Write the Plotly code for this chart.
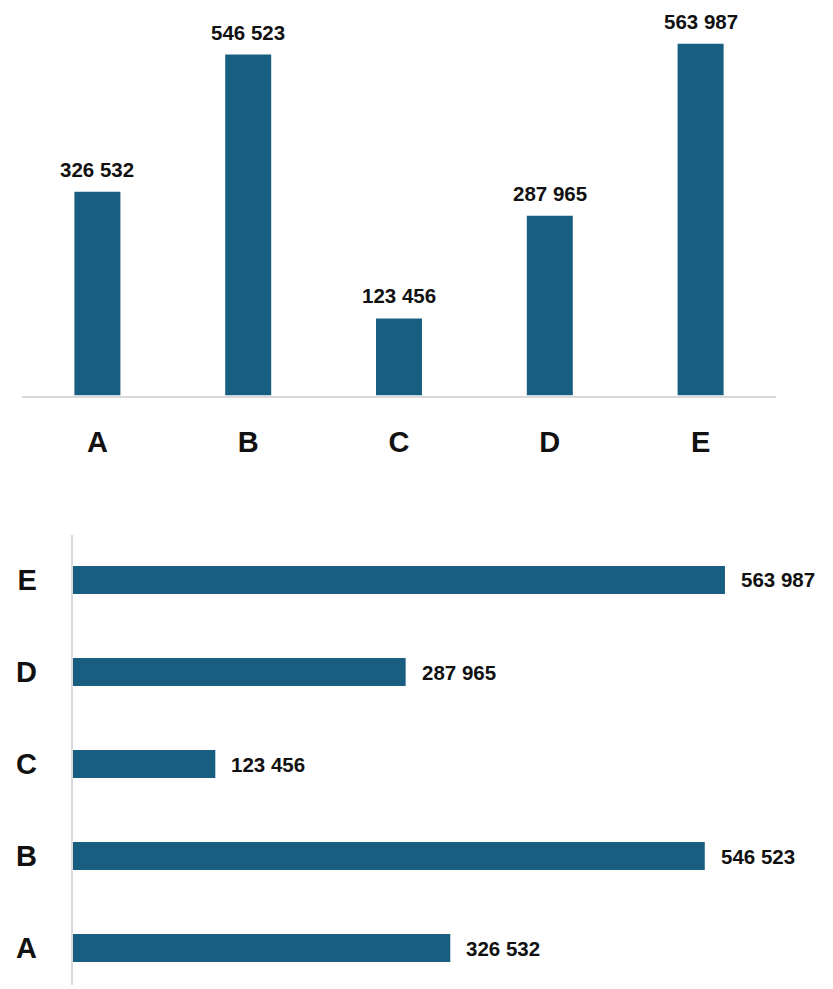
import plotly.graph_objects as go

W, H = 833, 989
OFF = 8  # page body margin in the browser

categories = ["A", "B", "C", "D", "E"]
values = [326532, 546523, 123456, 287965, 563987]
labels = ["326 532", "546 523", "123 456", "287 965", "563 987"]

BAR = "#175e80"
GRID = "#d9d9d9"
LABEL_FONT = dict(family="Liberation Sans, Arial, sans-serif", size=20.5, color="#111111")
CAT_FONT = dict(family="Liberation Sans, Arial, sans-serif", size=29, color="#111111")


def fx(px):
    return (px - OFF) / W


def fy(py):
    return 1 - (py - OFF) / H


fig = go.Figure()

# top: vertical columns
fig.add_trace(go.Bar(
    x=categories, y=values, marker_color=BAR, marker_line_width=0,
    xaxis="x", yaxis="y", width=0.305, hoverinfo="skip",
))

# bottom: horizontal bars
fig.add_trace(go.Bar(
    x=values, y=categories, orientation="h", marker_color=BAR, marker_line_width=0,
    xaxis="x2", yaxis="y2", width=0.305, hoverinfo="skip",
))

for c, v, t in zip(categories, values, labels):
    fig.add_annotation(x=c, y=v, xref="x", yref="y", text=f"<b>{t}</b>",
                       showarrow=False, yanchor="bottom", yshift=9, font=LABEL_FONT)
    fig.add_annotation(x=v, y=c, xref="x2", yref="y2", text=f"<b>{t}</b>",
                       showarrow=False, xanchor="left", xshift=14, font=LABEL_FONT)

top_px, base_px = OFF, 395.5
fig.update_layout(
    width=W, height=H,
    margin=dict(l=0, r=0, t=0, b=0),
    paper_bgcolor="white", plot_bgcolor="white",
    showlegend=False,
    xaxis=dict(
        domain=[fx(22), fx(776)], type="category", range=[-0.5, 4.5],
        showline=True, linecolor=GRID, linewidth=1.5, showgrid=False,
        ticks="", tickfont=CAT_FONT, ticklabelstandoff=20,
        tickvals=categories, ticktext=[f"<b>{c}</b>" for c in categories],
        anchor="y", fixedrange=True,
    ),
    yaxis=dict(
        domain=[fy(base_px), fy(top_px)], range=[0, (base_px - top_px) * 1603],
        showline=False, showgrid=False, zeroline=False, showticklabels=False,
        anchor="x", fixedrange=True,
    ),
    xaxis2=dict(
        domain=[fx(72.5), 1], range=[0, (W + OFF - 72.5) * 864.4],
        showline=False, showgrid=False, zeroline=False, showticklabels=False,
        anchor="y2", fixedrange=True,
    ),
    yaxis2=dict(
        domain=[fy(985), fy(535)], type="category", range=[-0.402, 4.489],
        showline=True, linecolor=GRID, linewidth=1.5, showgrid=False,
        ticks="", tickfont=CAT_FONT, ticklabelstandoff=28,
        tickvals=categories, ticktext=[f"<b>{c}</b>" for c in categories],
        anchor="x2", fixedrange=True,
    ),
)

fig.write_html("out.html")
